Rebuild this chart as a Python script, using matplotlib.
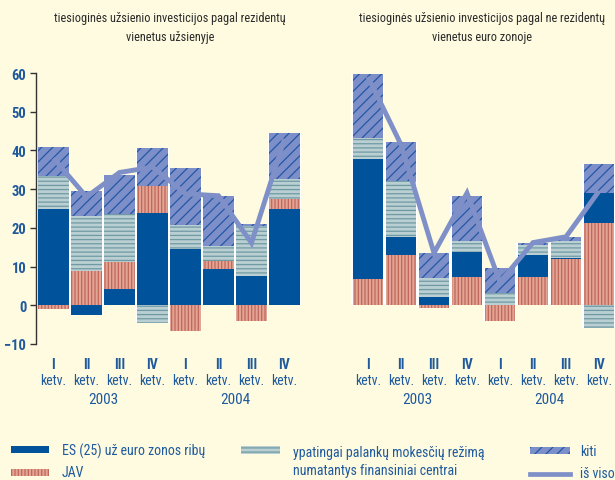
import numpy as np
import matplotlib
matplotlib.use("Agg")
import matplotlib.pyplot as plt
import matplotlib.patches as mpatches
from matplotlib.lines import Line2D

# ── data (mlrd. EUR) ──────────────────────────────────────────────────────────
quarters = ["I", "II", "III", "IV", "I", "II", "III", "IV"]
years = ["2003", "2004"]

# left: tiesioginės užsienio investicijos pagal rezidentų vienetus užsienyje
left_es = [25.0, -2.6, 4.1, 23.9, 14.6, 9.3, 7.5, 24.9]
left_jav = [-0.9, 8.8, 7.2, 6.8, -6.7, 2.1, -4.1, 2.6]
left_tax = [8.4, 14.2, 12.3, -4.7, 6.2, 3.9, 13.1, 5.0]
left_kiti = [7.5, 6.6, 10.1, 9.9, 14.7, 12.8, 0.3, 12.0]
left_total = [38.0, 28.0, 34.3, 35.7, 28.8, 28.3, 16.1, 43.0]

# right: tiesioginės užsienio investicijos pagal ne rezidentų vienetus euro zonoje
right_jav = [6.7, 12.9, -0.6, 7.3, -4.0, 7.3, 11.9, 21.2]
right_es = [31.0, 4.8, 2.2, 6.5, 0.0, 5.6, 0.4, 7.9]
right_tax = [5.6, 14.4, 4.9, 2.8, 3.3, 2.8, 4.3, -5.9]
right_kiti = [16.4, 10.1, 6.5, 11.7, 6.4, 0.3, 1.0, 7.4]
right_total = [59.0, 41.5, 13.5, 29.0, 6.0, 16.2, 17.7, 29.5]

# ── styles ────────────────────────────────────────────────────────────────────
BG = "#FFFBE0"
TXT = "#1F5A9E"
plt.rcParams["font.family"] = ["Roboto Condensed", "DejaVu Sans"]
plt.rcParams["font.stretch"] = "condensed"
plt.rcParams["hatch.linewidth"] = 0.9

STYLE = {
    "es":   dict(facecolor="#00529B", edgecolor="#00529B", hatch=None),
    "jav":  dict(facecolor="#E2A595", edgecolor="#C0685A", hatch="|||||"),
    "tax":  dict(facecolor="#B9CFD2", edgecolor="#6F9AA3", hatch="----"),
    "kiti": dict(facecolor="#7D8FC8", edgecolor="#2457A6", hatch="///"),
}
LINE_COLOR = "#7F90C8"
W = 0.93


def draw_panel(ax, series, total):
    x = np.arange(len(total))
    pos = np.zeros(len(x))
    neg = np.zeros(len(x))
    segs = []
    for key, vals in series:
        vals = np.asarray(vals, dtype=float)
        base = np.where(vals >= 0, pos, neg)
        segs.append((key, vals, base.copy()))
        pos = np.where(vals >= 0, pos + vals, pos)
        neg = np.where(vals < 0, neg + vals, neg)
    # white backing gives the thin white gaps between bars
    ax.bar(x, pos - neg, bottom=neg, width=1.0, color="white", lw=0, zorder=1)
    for key, vals, base in segs:
        st = STYLE[key]
        ax.bar(x, vals, bottom=base, width=W, facecolor=st["facecolor"],
               edgecolor=st["edgecolor"], hatch=st["hatch"], lw=0, zorder=2)
    ax.plot(x, total, color=LINE_COLOR, lw=3.5, zorder=4,
            solid_joinstyle="miter", solid_capstyle="butt")
    ax.set_xlim(-0.53, 7.5)
    ax.set_ylim(-10, 60)
    ax.set_facecolor(BG)
    for s in ["top", "right", "bottom"]:
        ax.spines[s].set_visible(False)
    ax.set_xticks([])


fig = plt.figure(figsize=(6.15, 4.81), dpi=100, facecolor=BG)

axL = fig.add_axes([36 / 615, 136 / 481, 265 / 615, 271 / 481])
axR = fig.add_axes([350.5 / 615, 136 / 481, 265 / 615, 271 / 481])

draw_panel(axL, [("es", left_es), ("jav", left_jav), ("tax", left_tax),
                 ("kiti", left_kiti)], left_total)
draw_panel(axR, [("jav", right_jav), ("es", right_es), ("tax", right_tax),
                 ("kiti", right_kiti)], right_total)

axL.spines["left"].set_color("#333333")
axL.spines["left"].set_linewidth(1.0)
axL.set_yticks(range(-10, 61, 10))
axL.tick_params(axis="y", colors="#333333", length=4, width=1.0, pad=3,
                labelcolor=TXT, labelsize=10.5)
for lab in axL.get_yticklabels():
    lab.set_fontweight("bold")
axR.spines["left"].set_visible(False)
axR.set_yticks([])

# x category labels
for ax in (axL, axR):
    for i, q in enumerate(quarters):
        ax.text(i, -15.2, q, ha="center", va="center", color=TXT,
                fontsize=10, fontweight="bold", clip_on=False)
        ax.text(i, -19.4, "ketv.", ha="center", va="center", color=TXT,
                fontsize=10, clip_on=False)
    for j, yr in enumerate(years):
        ax.text(1.5 + 4 * j, -24.2, yr, ha="center", va="center", color=TXT,
                fontsize=11, clip_on=False)

# titles
fig.text(170 / 615, 1 - 28 / 481,
         "tiesioginės užsienio investicijos pagal rezidentų\nvienetus užsienyje",
         ha="center", va="center", fontsize=8.8, color="#2A2A2A", linespacing=1.6)
fig.text(482 / 615, 1 - 28 / 481,
         "tiesioginės užsienio investicijos pagal ne rezidentų\nvienetus euro zonoje",
         ha="center", va="center", fontsize=8.8, color="#2A2A2A", linespacing=1.6)


# legend drawn in figure pixels
def fpatch(x0, y0, w, h, key):
    st = STYLE[key]
    r = mpatches.Rectangle((x0 / 615, 1 - (y0 + h) / 481), w / 615, h / 481,
                           transform=fig.transFigure, facecolor=st["facecolor"],
                           edgecolor=st["edgecolor"], hatch=st["hatch"], lw=0)
    fig.patches.append(r)


fpatch(11, 447, 38, 7, "es")
fpatch(11, 470, 38, 7, "jav")
fpatch(241, 447, 39, 8, "tax")
fpatch(530, 448, 40, 7, "kiti")
fig.lines.append(Line2D([530 / 615, 570 / 615], [1 - 475 / 481, 1 - 475 / 481],
                        transform=fig.transFigure, color=LINE_COLOR, lw=3.4))

leg_kw = dict(ha="left", va="center", color=TXT, fontsize=10)
fig.text(62 / 615, 1 - 451 / 481, "ES (25) už euro zonos ribų", **leg_kw)
fig.text(62 / 615, 1 - 473 / 481, "JAV", **leg_kw)
fig.text(293 / 615, 1 - 453 / 481, "ypatingai palankų mokesčių režimą", **leg_kw)
fig.text(293 / 615, 1 - 471 / 481, "numatantys finansiniai centrai", **leg_kw)
fig.text(580 / 615, 1 - 452 / 481, "kiti", **leg_kw)
fig.text(580 / 615, 1 - 474 / 481, "iš viso", **leg_kw)

fig.savefig("out.png", dpi=100, facecolor=BG)
